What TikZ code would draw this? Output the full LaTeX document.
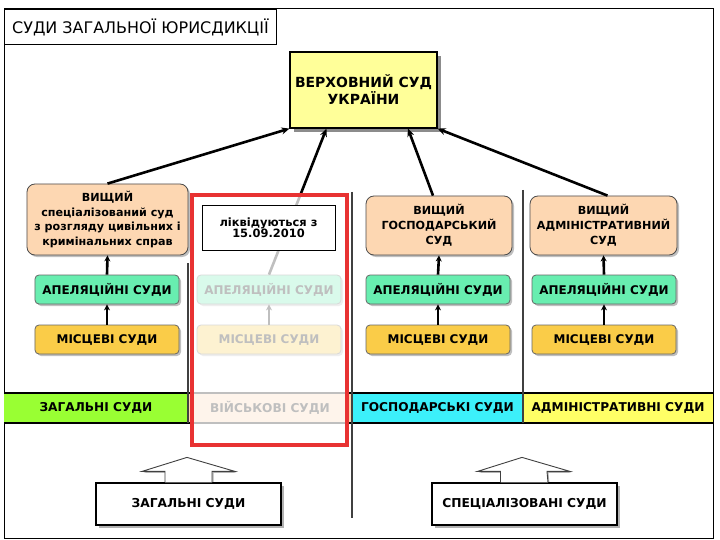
\documentclass[tikz,border=0pt]{standalone}
\usepackage{fontspec}
\setmainfont{DejaVu Sans}
\usetikzlibrary{arrows.meta,shadows,calc}
\definecolor{supfill}{RGB}{255,255,153}
\definecolor{peach}{RGB}{253,215,178}
\definecolor{appgreen}{RGB}{104,238,176}
\definecolor{locgold}{RGB}{250,204,72}
\definecolor{bandgreen}{RGB}{153,255,51}
\definecolor{bandcyan}{RGB}{60,240,250}
\definecolor{bandyellow}{RGB}{255,255,102}
\definecolor{alarm}{RGB}{232,50,50}
\begin{document}
\begin{tikzpicture}[x=1bp,y=-1bp,
  softshadow/.style={drop shadow={shadow xshift=2bp,shadow yshift=-2bp,opacity=0.25,fill=black}},
  supbox/.style={draw=black,line width=1.2bp,fill=supfill,minimum width=147bp,minimum height=76bp,
    align=center,font=\fontsize{14}{17}\selectfont\bfseries,inner sep=1bp,
    drop shadow={shadow xshift=4bp,shadow yshift=-4bp,opacity=0.45,fill=black}},
  upbox/.style={draw=black!70,line width=0.8bp,fill=peach,rounded corners=8bp,minimum height=59bp,
    align=center,font=\fontsize{11.2}{15}\selectfont\bfseries,inner sep=0bp,softshadow},
  appbox/.style={draw=black!60,line width=0.8bp,fill=appgreen,rounded corners=4bp,minimum width=144bp,
    minimum height=29bp,font=\fontsize{12}{13}\selectfont\bfseries,inner sep=1bp,softshadow},
  locbox/.style={appbox,fill=locgold},
  bandtext/.style={font=\fontsize{12.2}{13}\selectfont\bfseries,inner sep=1bp},
  bottombox/.style={draw=black,line width=1.2bp,fill=white,minimum width=185bp,minimum height=42bp,
    font=\fontsize{12.3}{13}\selectfont\bfseries,
    drop shadow={shadow xshift=3bp,shadow yshift=-3bp,opacity=0.3,fill=black}},
  roof/.style={draw=black!75,line width=0.9bp,fill=white,
    drop shadow={shadow xshift=1.5bp,shadow yshift=-1.5bp,opacity=0.3,fill=black}},
  arr/.style={-{Stealth[length=8bp,width=7bp]},line width=2.6bp,black},
  sarr/.style={-{Stealth[length=6bp,width=6bp]},line width=2.6bp,black},
  sepline/.style={draw=black!75,line width=1.2bp}]
\useasboundingbox (0,0) rectangle (720,540);
\fill[white] (0,0) rectangle (720,540);

% outer frame and title
\draw[line width=1bp] (4,9) rectangle (713,538);
\node[draw=black,line width=1bp,fill=white,anchor=north west,minimum width=272bp,minimum height=35bp,
  font=\fontsize{16}{18}\selectfont,inner sep=2bp] (title) at (4,9) {СУДИ ЗАГАЛЬНОЇ ЮРИСДИКЦІЇ};

% band
\fill[bandgreen] (4,393) rectangle (188,423);
\fill[peach] (188,393) rectangle (352,423);
\fill[bandcyan] (352,393) rectangle (523,423);
\fill[bandyellow] (523,393) rectangle (713,423);
\draw[line width=1.4bp] (4,393) -- (713,393) (4,423) -- (713,423);
\node[bandtext] (bgen) at (96,408) {ЗАГАЛЬНІ СУДИ};
\node[bandtext] (bmil) at (270,408) {ВІЙСЬКОВІ СУДИ};
\node[bandtext] (bgos) at (437.5,408) {ГОСПОДАРСЬКІ СУДИ};
\node[bandtext] (badm) at (618,408) {АДМІНІСТРАТИВНІ СУДИ};

% separators
\draw[sepline] (188,263) -- (188,423);
\draw[sepline] (352,192) -- (352,518);
\draw[sepline] (523,190) -- (523,423);

% supreme court
\node[supbox] (sup) at (363.5,90) {ВЕРХОВНИЙ СУД\\УКРАЇНИ};

% higher courts
\node[upbox,minimum width=161bp,minimum height=71bp] (up1) at (107.5,219.5)
  {ВИЩИЙ\\спеціалізований суд\\з розгляду цивільних і\\кримінальних справ};
\node[upbox,minimum width=146bp] (up3) at (439,225.5) {ВИЩИЙ\\ГОСПОДАРСЬКИЙ\\СУД};
\node[upbox,minimum width=147bp] (up4) at (603.5,225.5) {ВИЩИЙ\\АДМІНІСТРАТИВНИЙ\\СУД};

% appeal courts
\node[appbox] (app1) at (107,289.5) {АПЕЛЯЦІЙНІ СУДИ};
\node[appbox] (app2) at (269,289.5) {АПЕЛЯЦІЙНІ СУДИ};
\node[appbox] (app3) at (438,289.5) {АПЕЛЯЦІЙНІ СУДИ};
\node[appbox] (app4) at (604,289.5) {АПЕЛЯЦІЙНІ СУДИ};

% local courts
\node[locbox] (loc1) at (107,339.5) {МІСЦЕВІ СУДИ};
\node[locbox] (loc2) at (269,339.5) {МІСЦЕВІ СУДИ};
\node[locbox] (loc3) at (438,339.5) {МІСЦЕВІ СУДИ};
\node[locbox] (loc4) at (604,339.5) {МІСЦЕВІ СУДИ};

% vertical arrows
\draw[sarr] (loc1.north) -- (app1.south);
\draw[sarr] (loc2.north) -- (app2.south);
\draw[sarr] (loc3.north) -- (app3.south);
\draw[sarr] (loc4.north) -- (app4.south);
\draw[sarr] (app1.north) -- (up1.south);
\draw[sarr] (app3.north) -- (up3.south);
\draw[sarr] (app4.north) -- (up4.south);

% arrows to supreme court
\draw[arr] (up1.north) -- (sup.south west);
\draw[arr] (app2.north) -- ($(sup.south west)!0.25!(sup.south east)$);
\draw[arr] ($(up3.north)+(-6,0)$) -- ($(sup.south west)!0.8!(sup.south east)$);
\draw[arr] ($(up4.north)+(4,0)$) -- (sup.south east);

% military courts overlay
\fill[white,opacity=0.75] (192,195) rectangle (347,445);
\draw[alarm,line width=4bp] (192,195) rectangle (347,445);
\node[draw=black,line width=1bp,fill=white,minimum width=133bp,minimum height=44bp,align=center,
  inner sep=1bp] (note) at (268.5,228)
  {{\fontsize{11.5}{13}\selectfont\bfseries ліквідуються з}\\[-1bp]{\fontsize{11.5}{13}\selectfont\bfseries 15.09.2010}};

% bottom boxes with roofs
\node[bottombox] (gen) at (188.5,504) {ЗАГАЛЬНІ СУДИ};
\node[bottombox] (spec) at (524.5,504) {СПЕЦІАЛІЗОВАНІ СУДИ};
\draw[roof] ($(gen.north)+(-23.5,0)$) -- ++(0,-11) -- ++(-23,0) -- ($(gen.north)+(-1.5,-25)$)
  -- ($(gen.north)+(46.5,-11)$) -- ++(-23,0) -- ($(gen.north)+(23.5,0)$);
\draw[roof] ($(spec.north)+(-24,0)$) -- ++(0,-11) -- ++(-23,0) -- ($(spec.north)+(-2.5,-25)$)
  -- ($(spec.north)+(45.5,-11)$) -- ++(-23,0) -- ($(spec.north)+(23.5,0)$);
\end{tikzpicture}
\end{document}
